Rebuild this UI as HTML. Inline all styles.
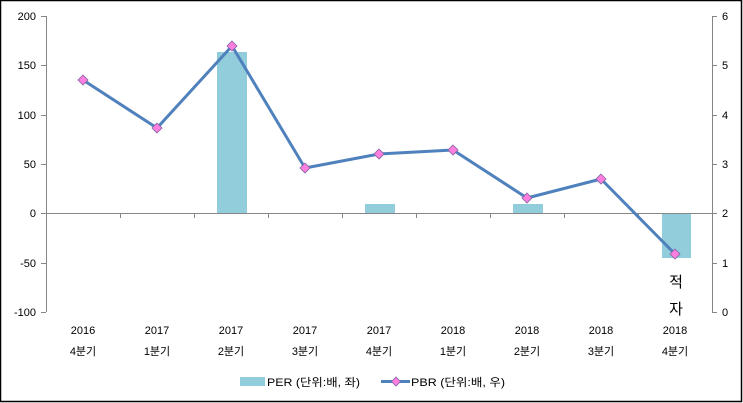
<!DOCTYPE html>
<html><head><meta charset="utf-8"><style>
body{margin:0;background:#fff}
svg{display:block}
text{font-family:"Liberation Sans","Noto Sans CJK KR",sans-serif;font-size:11px;fill:#000}
</style></head><body>
<svg width="743" height="403" viewBox="0 0 743 403">
<rect x="0.5" y="0.5" width="741" height="401" fill="#fff" stroke="#000" stroke-width="1.5"/>
<g fill="#92CDDC">
<rect x="217" y="52" width="30" height="161"/>
<rect x="365" y="204" width="30" height="9"/>
<rect x="513" y="204" width="30" height="9"/>
<rect x="662" y="213" width="29" height="45"/>
</g>
<g stroke="#868686" stroke-width="1" fill="none">
<line x1="46.5" y1="16" x2="46.5" y2="312"/>
<line x1="41" y1="16.5" x2="46" y2="16.5"/>
<line x1="41" y1="65.5" x2="46" y2="65.5"/>
<line x1="41" y1="115.5" x2="46" y2="115.5"/>
<line x1="41" y1="164.5" x2="46" y2="164.5"/>
<line x1="41" y1="213.5" x2="46" y2="213.5"/>
<line x1="41" y1="263.5" x2="46" y2="263.5"/>
<line x1="41" y1="312.5" x2="46" y2="312.5"/>
<line x1="712.5" y1="16" x2="712.5" y2="312"/>
<line x1="712" y1="16.5" x2="717" y2="16.5"/>
<line x1="712" y1="65.5" x2="717" y2="65.5"/>
<line x1="712" y1="115.5" x2="717" y2="115.5"/>
<line x1="712" y1="164.5" x2="717" y2="164.5"/>
<line x1="712" y1="213.5" x2="717" y2="213.5"/>
<line x1="712" y1="263.5" x2="717" y2="263.5"/>
<line x1="712" y1="312.5" x2="717" y2="312.5"/>
<line x1="46" y1="213.5" x2="712" y2="213.5"/>
<line x1="120.5" y1="213" x2="120.5" y2="218"/>
<line x1="194.5" y1="213" x2="194.5" y2="218"/>
<line x1="268.5" y1="213" x2="268.5" y2="218"/>
<line x1="342.5" y1="213" x2="342.5" y2="218"/>
<line x1="416.5" y1="213" x2="416.5" y2="218"/>
<line x1="490.5" y1="213" x2="490.5" y2="218"/>
<line x1="564.5" y1="213" x2="564.5" y2="218"/>
<line x1="638.5" y1="213" x2="638.5" y2="218"/>
</g>
<g text-anchor="end">
<text x="36" y="20">200</text><text x="36" y="69">150</text><text x="36" y="119">100</text>
<text x="36" y="168">50</text><text x="36" y="217">0</text><text x="36" y="267">-50</text><text x="36" y="316">-100</text>
</g>
<g>
<text x="722" y="20">6</text><text x="722" y="69">5</text><text x="722" y="119">4</text>
<text x="722" y="168">3</text><text x="722" y="217">2</text><text x="722" y="267">1</text><text x="722" y="316">0</text>
</g>
<g text-anchor="middle">
<text x="83" y="334">2016</text><text x="83" y="355">4분기</text>
<text x="157" y="334">2017</text><text x="157" y="355">1분기</text>
<text x="231" y="334">2017</text><text x="231" y="355">2분기</text>
<text x="305" y="334">2017</text><text x="305" y="355">3분기</text>
<text x="379" y="334">2017</text><text x="379" y="355">4분기</text>
<text x="453" y="334">2018</text><text x="453" y="355">1분기</text>
<text x="527" y="334">2018</text><text x="527" y="355">2분기</text>
<text x="601" y="334">2018</text><text x="601" y="355">3분기</text>
<text x="675" y="334">2018</text><text x="675" y="355">4분기</text>
<text x="676" y="287" style="font-size:15px">적</text>
<text x="676" y="314" style="font-size:15px">자</text>
</g>
<polyline points="83,80 157,128 232,46 305,168 379,154 453,150 527,198 601,179 675,254" fill="none" stroke="#4F81BD" stroke-width="3" stroke-linejoin="round"/>
<g fill="#FF7FE0" stroke="#8064A2" stroke-width="0.8">
<path d="M83,75 L88,80 L83,85 L78,80Z"/>
<path d="M157,123 L162,128 L157,133 L152,128Z"/>
<path d="M232,41 L237,46 L232,51 L227,46Z"/>
<path d="M305,163 L310,168 L305,173 L300,168Z"/>
<path d="M379,149 L384,154 L379,159 L374,154Z"/>
<path d="M453,145 L458,150 L453,155 L448,150Z"/>
<path d="M527,193 L532,198 L527,203 L522,198Z"/>
<path d="M601,174 L606,179 L601,184 L596,179Z"/>
<path d="M675,249 L680,254 L675,259 L670,254Z"/>
</g>
<rect x="240" y="377" width="25" height="9" fill="#92CDDC"/>
<text x="267" y="386" textLength="93" lengthAdjust="spacingAndGlyphs">PER (단위:배, 좌)</text>
<line x1="381" y1="381.5" x2="410" y2="381.5" stroke="#4F81BD" stroke-width="3"/>
<path d="M396,377 L400.5,381.5 L396,386 L391.5,381.5Z" fill="#FF7FE0" stroke="#8064A2" stroke-width="0.8"/>
<text x="411" y="386" textLength="94" lengthAdjust="spacingAndGlyphs">PBR (단위:배, 우)</text>
</svg>
</body></html>
